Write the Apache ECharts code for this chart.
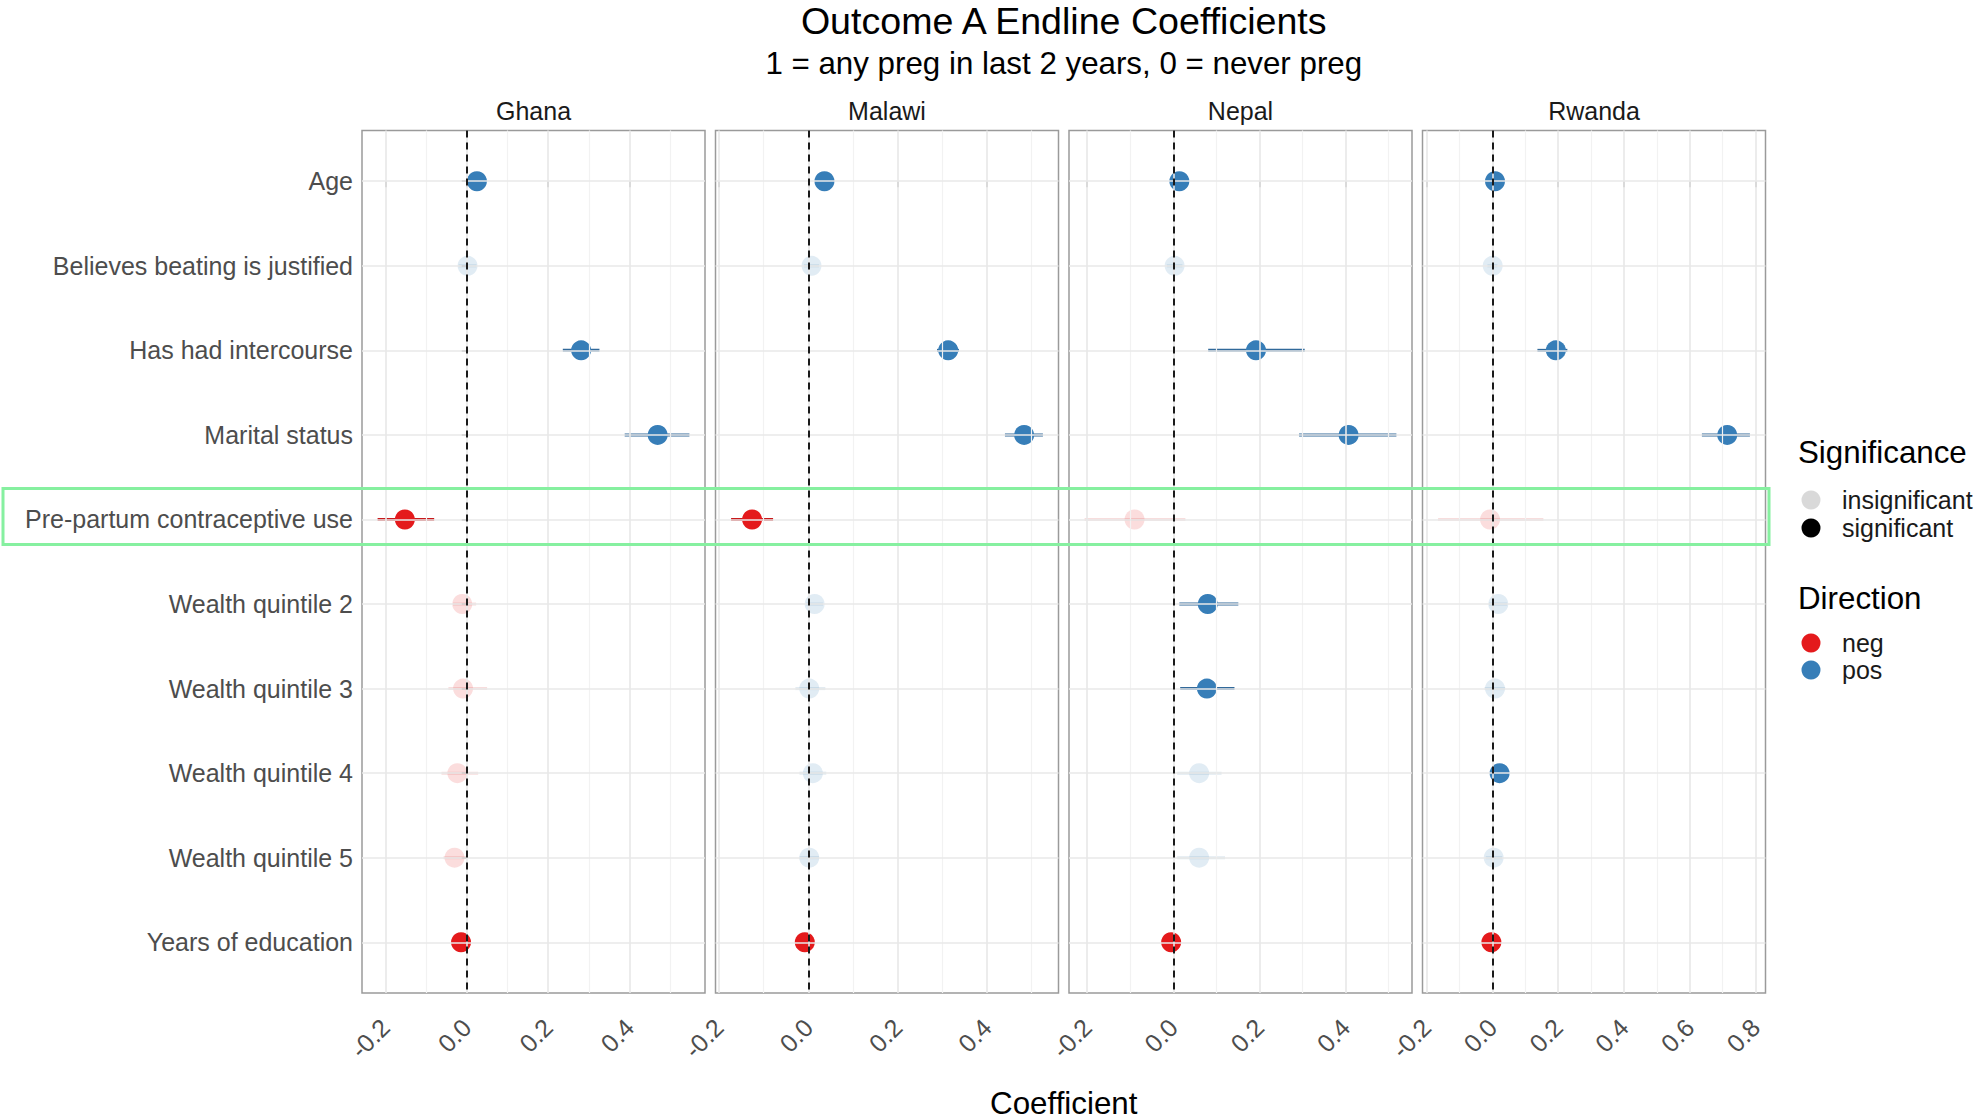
<!DOCTYPE html>
<html>
<head>
<meta charset="utf-8">
<script src="https://cdn.jsdelivr.net/npm/echarts@6/dist/echarts.min.js"></script>
<style>
  html, body { margin: 0; padding: 0; background: #ffffff; }
  #chart { width: 1980px; height: 1120px; }
</style>
</head>
<body>
<div id="chart"></div>
<script>
// ---- data -------------------------------------------------------------
const countries = ['Ghana', 'Malawi', 'Nepal', 'Rwanda'];
const terms = [
  'Age',
  'Believes beating is justified',
  'Has had intercourse',
  'Marital status',
  'Pre-partum contraceptive use',
  'Wealth quintile 2',
  'Wealth quintile 3',
  'Wealth quintile 4',
  'Wealth quintile 5',
  'Years of education'
];

// estimates and 95% CI bounds, in the order of `terms`
const ghanaEst = [0.025, 0.002, 0.281, 0.469, -0.152, -0.011, -0.009, -0.023, -0.030, -0.014];
const ghanaLo  = [0.013, -0.020, 0.236, 0.388, -0.219, -0.034, -0.045, -0.062, -0.057, -0.022];
const ghanaHi  = [0.037, 0.024, 0.326, 0.547, -0.080, 0.023, 0.050, 0.028, 0.000, -0.006];
const ghanaSig = [1, 0, 1, 1, 1, 0, 0, 0, 0, 1];
const ghanaDir = ['pos', 'pos', 'pos', 'pos', 'neg', 'neg', 'neg', 'neg', 'neg', 'neg'];

const malawiEst = [0.036, 0.007, 0.313, 0.483, -0.126, 0.014, 0.002, 0.010, 0.002, -0.008];
const malawiLo  = [0.026, -0.010, 0.288, 0.440, -0.173, -0.005, -0.029, -0.020, -0.020, -0.014];
const malawiHi  = [0.046, 0.024, 0.337, 0.525, -0.079, 0.033, 0.038, 0.040, 0.024, -0.002];
const malawiSig = [1, 0, 1, 1, 1, 0, 0, 0, 0, 1];
const malawiDir = ['pos', 'pos', 'pos', 'pos', 'neg', 'pos', 'pos', 'pos', 'pos', 'neg'];

const nepalEst = [0.014, 0.003, 0.192, 0.407, -0.090, 0.080, 0.078, 0.060, 0.060, -0.005];
const nepalLo  = [0.006, -0.015, 0.081, 0.292, -0.206, 0.014, 0.016, 0.009, 0.009, -0.012];
const nepalHi  = [0.022, 0.021, 0.305, 0.518, 0.028, 0.151, 0.142, 0.112, 0.120, 0.002];
const nepalSig = [1, 0, 1, 1, 0, 1, 1, 0, 0, 1];
const nepalDir = ['pos', 'pos', 'pos', 'pos', 'neg', 'pos', 'pos', 'pos', 'pos', 'neg'];

const rwandaEst = [0.008, 0.001, 0.193, 0.714, -0.007, 0.018, 0.008, 0.022, 0.004, -0.003];
const rwandaLo  = [0.002, -0.015, 0.137, 0.637, -0.165, -0.010, -0.024, 0.005, -0.020, -0.009];
const rwandaHi  = [0.014, 0.015, 0.228, 0.783, 0.155, 0.045, 0.039, 0.040, 0.030, 0.003];
const rwandaSig = [1, 0, 1, 1, 0, 0, 0, 1, 0, 1];
const rwandaDir = ['pos', 'pos', 'pos', 'pos', 'neg', 'pos', 'pos', 'pos', 'pos', 'neg'];

// axis breaks per facet
const ghanaTicks  = [-0.2, 0, 0.2, 0.4];
const malawiTicks = [-0.2, 0, 0.2, 0.4];
const nepalTicks  = [-0.2, 0, 0.2, 0.4];
const rwandaTicks = [-0.2, 0, 0.2, 0.4, 0.6, 0.8];
const ghanaMinor  = [-0.1, 0.1, 0.3, 0.5];
const malawiMinor = [-0.1, 0.1, 0.3, 0.5];
const nepalMinor  = [-0.1, 0.1, 0.3, 0.5];
const rwandaMinor = [-0.1, 0.1, 0.3, 0.5, 0.7];

const panels = [
  { est: ghanaEst,  lo: ghanaLo,  hi: ghanaHi,  sig: ghanaSig,  dir: ghanaDir,  ticks: ghanaTicks,  minor: ghanaMinor },
  { est: malawiEst, lo: malawiLo, hi: malawiHi, sig: malawiSig, dir: malawiDir, ticks: malawiTicks, minor: malawiMinor },
  { est: nepalEst,  lo: nepalLo,  hi: nepalHi,  sig: nepalSig,  dir: nepalDir,  ticks: nepalTicks,  minor: nepalMinor },
  { est: rwandaEst, lo: rwandaLo, hi: rwandaHi, sig: rwandaSig, dir: rwandaDir, ticks: rwandaTicks, minor: rwandaMinor }
];

// ---- styling ----------------------------------------------------------
const FONT = '"Liberation Sans", Arial, Helvetica, sans-serif';
const dirColor = { neg: '#E41A1C', pos: '#377EB8' };
const intervalColor = { neg: '#C8191B', pos: '#31699A' };
const faint = 0.15;

const panelLeft = 362;
const panelWidth = 343;
const panelGap = 10.5;
const panelTop = 130.5;
const panelHeight = 862.5;

// free x scales: data extent of the intervals plus 5% on each side
function paddedRange(lo, hi) {
  const a = Math.min(...lo), b = Math.max(...hi);
  const pad = (b - a) * 0.05;
  return [a - pad, b + pad];
}

const rowIdx = terms.map((t, i) => i);

const grids = [], xAxes = [], yAxes = [], series = [];

panels.forEach((p, k) => {
  const left = panelLeft + k * (panelWidth + panelGap);
  grids.push({
    left: left, top: panelTop, width: panelWidth, height: panelHeight,
    show: true, borderColor: '#9a9a9a', borderWidth: 1.5, backgroundColor: 'transparent',
    containLabel: false, outerBoundsMode: 'none'
  });
  const range = paddedRange(p.lo, p.hi);
  xAxes.push({
    type: 'value', gridIndex: k, min: range[0], max: range[1],
    axisLine: { show: false },
    splitLine: { show: false },
    axisTick: { show: true, length: 6, customValues: p.ticks, lineStyle: { color: '#8a8a8a', width: 1.5 } },
    axisLabel: {
      show: true, customValues: p.ticks, rotate: 45, margin: 30,
      fontSize: 25, fontFamily: FONT, color: '#4D4D4D',
      formatter: v => v.toFixed(1), hideOverlap: false
    }
  });
  yAxes.push({
    type: 'value', gridIndex: k, min: -0.6, max: 9.6, inverse: true,
    axisLine: { show: false },
    splitLine: { show: false },
    axisTick: { show: k === 0, length: 5, customValues: rowIdx, lineStyle: { color: '#8a8a8a', width: 1.5 } },
    axisLabel: {
      show: k === 0, customValues: rowIdx, margin: 9,
      fontSize: 25, fontFamily: FONT, color: '#4D4D4D',
      formatter: v => terms[Math.round(v)] || ''
    }
  });

  // panel grid lines
  series.push({
    type: 'scatter', xAxisIndex: k, yAxisIndex: k, data: [], z: 1, silent: true,
    markLine: {
      silent: true, symbol: ['none', 'none'], label: { show: false },
      animation: false,
      data: [
        ...p.minor.map(v => ({ xAxis: v, lineStyle: { color: '#F2F2F2', width: 1.2, type: 'solid' } })),
        ...p.ticks.map(v => ({ xAxis: v, lineStyle: { color: '#E8E8E8', width: 1.6, type: 'solid' } })),
        ...rowIdx.map(v => ({ yAxis: v, lineStyle: { color: '#E8E8E8', width: 1.6, type: 'solid' } }))
      ]
    }
  });

  // confidence intervals
  series.push({
    type: 'custom', xAxisIndex: k, yAxisIndex: k, z: 2, silent: true,
    data: rowIdx.map(i => [p.lo[i], p.hi[i], i]),
    encode: { x: [0, 1], y: 2 },
    renderItem: (params, api) => {
      const i = params.dataIndex;
      const a = api.coord([api.value(0), api.value(2)]);
      const b = api.coord([api.value(1), api.value(2)]);
      return {
        type: 'line',
        shape: { x1: a[0], y1: a[1], x2: b[0], y2: b[1] },
        style: { stroke: intervalColor[p.dir[i]], lineWidth: 3, opacity: p.sig[i] ? 1 : faint }
      };
    }
  });

  // point estimates
  series.push({
    type: 'scatter', xAxisIndex: k, yAxisIndex: k, z: 3, silent: true,
    symbol: 'circle', symbolSize: 20,
    data: rowIdx.map(i => ({
      value: [p.est[i], i],
      itemStyle: { color: dirColor[p.dir[i]], opacity: p.sig[i] ? 1 : faint }
    }))
  });

  // zero reference line
  series.push({
    type: 'scatter', xAxisIndex: k, yAxisIndex: k, data: [], z: 4, silent: true,
    markLine: {
      silent: true, symbol: ['none', 'none'], label: { show: false }, animation: false,
      lineStyle: { color: '#1a1a1a', width: 2, type: [7, 5] },
      data: [{ xAxis: 0 }]
    }
  });
});

const plotCenter = panelLeft + (4 * panelWidth + 3 * panelGap) / 2;

const graphics = [
  { type: 'text', x: plotCenter, y: 21, style: { text: 'Outcome A Endline Coefficients', font: '37.6px ' + FONT, fill: '#000', textAlign: 'center', textVerticalAlign: 'middle' } },
  { type: 'text', x: plotCenter, y: 63, style: { text: '1 = any preg in last 2 years, 0 = never preg', font: '31.3px ' + FONT, fill: '#000', textAlign: 'center', textVerticalAlign: 'middle' } },
  { type: 'text', x: plotCenter, y: 1103, style: { text: 'Coefficient', font: '31.3px ' + FONT, fill: '#000', textAlign: 'center', textVerticalAlign: 'middle' } },
  // legend: significance
  { type: 'text', x: 1798, y: 452, style: { text: 'Significance', font: '31.3px ' + FONT, fill: '#000', textAlign: 'left', textVerticalAlign: 'middle' } },
  { type: 'circle', shape: { cx: 1811, cy: 500, r: 9.5 }, style: { fill: '#000', opacity: faint } },
  { type: 'text', x: 1842, y: 500, style: { text: 'insignificant', font: '25px ' + FONT, fill: '#1a1a1a', textAlign: 'left', textVerticalAlign: 'middle' } },
  { type: 'circle', shape: { cx: 1811, cy: 528, r: 9.5 }, style: { fill: '#000' } },
  { type: 'text', x: 1842, y: 528, style: { text: 'significant', font: '25px ' + FONT, fill: '#1a1a1a', textAlign: 'left', textVerticalAlign: 'middle' } },
  // legend: direction
  { type: 'text', x: 1798, y: 598, style: { text: 'Direction', font: '31.3px ' + FONT, fill: '#000', textAlign: 'left', textVerticalAlign: 'middle' } },
  { type: 'circle', shape: { cx: 1811, cy: 643, r: 9.5 }, style: { fill: dirColor.neg } },
  { type: 'text', x: 1842, y: 643, style: { text: 'neg', font: '25px ' + FONT, fill: '#1a1a1a', textAlign: 'left', textVerticalAlign: 'middle' } },
  { type: 'circle', shape: { cx: 1811, cy: 670, r: 9.5 }, style: { fill: dirColor.pos } },
  { type: 'text', x: 1842, y: 670, style: { text: 'pos', font: '25px ' + FONT, fill: '#1a1a1a', textAlign: 'left', textVerticalAlign: 'middle' } }
];

// facet strip labels
countries.forEach((c, k) => {
  const cx = panelLeft + k * (panelWidth + panelGap) + panelWidth / 2;
  graphics.push({ type: 'text', x: cx, y: 111, style: { text: c, font: '25px ' + FONT, fill: '#1A1A1A', textAlign: 'center', textVerticalAlign: 'middle' } });
});

const chart = echarts.init(document.getElementById('chart'), null, { renderer: 'svg' });
chart.setOption({
  animation: false,
  backgroundColor: '#ffffff',
  textStyle: { fontFamily: FONT },
  grid: grids,
  xAxis: xAxes,
  yAxis: yAxes,
  series: series,
  graphic: graphics
});

// highlight box around the pre-partum contraceptive use row
const rowY = chart.convertToPixel({ xAxisIndex: 0, yAxisIndex: 0 }, [0, terms.indexOf('Pre-partum contraceptive use')])[1];
const boxRight = panelLeft + 4 * panelWidth + 3 * panelGap + 3.5;
chart.setOption({
  graphic: graphics.concat([{
    type: 'rect', z: 100,
    shape: { x: 3, y: rowY - 31, width: boxRight - 3, height: 56 },
    style: { fill: 'none', stroke: '#86F0A0', lineWidth: 3 }
  }])
});
</script>
</body>
</html>
